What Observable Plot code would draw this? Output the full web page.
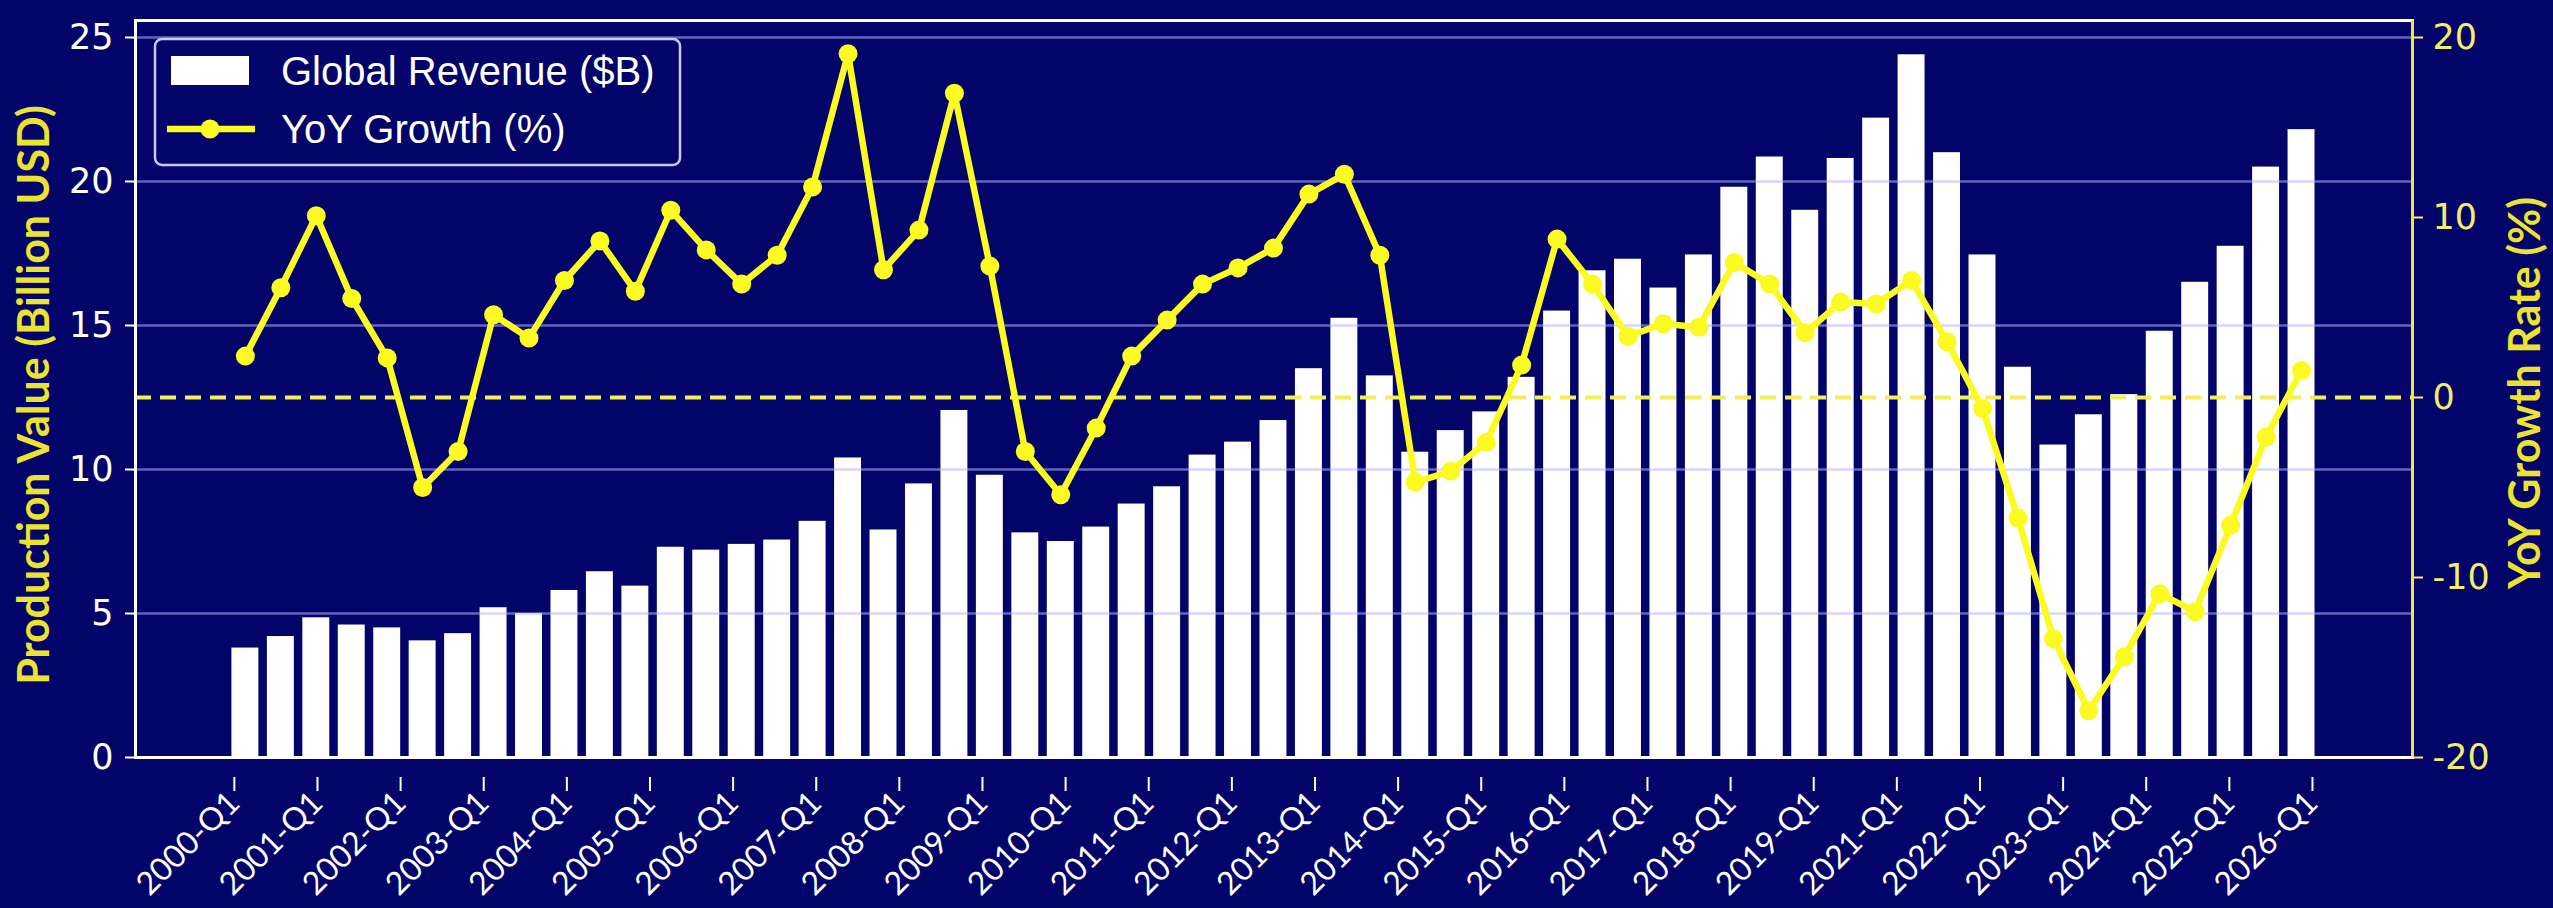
<!DOCTYPE html>
<html><head><meta charset="utf-8">
<script src="https://cdn.jsdelivr.net/npm/d3@7"></script>
<script src="https://cdn.jsdelivr.net/npm/@observablehq/plot@0.6"></script>
<style>
html,body{margin:0;padding:0;background:#03046a;}
#chart{position:relative;width:2553px;height:908px;}
</style></head><body><div id="chart"></div>
<script>
// ---- data ----
const revenue = [
  3.8, 4.2, 4.85, 4.6, 4.5, 4.05, 4.3, 5.2, 5.0, 5.8,
  6.45, 5.95, 7.3, 7.2, 7.4, 7.55, 8.2, 10.4, 7.9, 9.5,
  12.05, 9.8, 7.8, 7.5, 8.0, 8.8, 9.4, 10.5, 10.95, 11.7,
  13.5, 15.25, 13.25, 10.6, 11.35, 12.0, 13.2, 15.5, 16.9, 17.3,
  16.3, 17.45, 19.8, 20.85, 19.0, 20.8, 22.2, 24.4, 21.0, 17.45,
  13.55, 10.85, 11.9, 12.6, 14.8, 16.5, 17.75, 20.5, 21.8
];
const growth = [
  2.3, 6.1, 10.1, 5.5, 2.2, -5.0, -3.0, 4.6, 3.3, 6.5,
  8.7, 5.9, 10.4, 8.2, 6.3, 7.9, 11.7, 19.1, 7.1, 9.3,
  16.9, 7.3, -3.0, -5.4, -1.7, 2.3, 4.3, 6.3, 7.2, 8.3,
  11.3, 12.4, 7.9, -4.7, -4.1, -2.5, 1.8, 8.8, 6.3, 3.4,
  4.1, 3.9, 7.5, 6.3, 3.6, 5.3, 5.2, 6.5, 3.1, -0.6,
  -6.7, -13.4, -17.4, -14.4, -10.9, -11.9, -7.1, -2.2, 1.5
];
const tickLabels = [
  "2000-Q1","2001-Q1","2002-Q1","2003-Q1","2004-Q1","2005-Q1","2006-Q1",
  "2007-Q1","2008-Q1","2009-Q1","2010-Q1","2011-Q1","2012-Q1","2013-Q1",
  "2014-Q1","2015-Q1","2016-Q1","2017-Q1","2018-Q1","2019-Q1","2021-Q1",
  "2022-Q1","2023-Q1","2024-Q1","2025-Q1","2026-Q1"
];
const leftTicks = [0, 5, 10, 15, 20, 25];
const rightTicks = [-20, -10, 0, 10, 20];
const seriesNames = ["Global Revenue ($B)", "YoY Growth (%)"];
const axisTitles = ["Production Value (Billion USD)", "YoY Growth Rate (%)"];

// ---- layout / style ----
const W = 2553, H = 908;
const navy = "#03046a", yellow = "#fbfb22", gold = "#ece330";
const n = revenue.length;
const yMax = 25.59;
const gMin = -20, gMax = 20;
const g2y = g => (g - gMin) * 25 / (gMax - gMin);   // right axis mapped onto left scale
const rows = revenue.map((v, i) => ({i, v, g: growth[i]}));
const xDomain = [-3.1, n - 1 + 3.13];
const firstTick = -0.65, lastTick = n - 1 - 0.03;
const tickPos = tickLabels.map((_, k) => firstTick + k * (lastTick - firstTick) / (tickLabels.length - 1));
const xLabel = new Map(tickPos.map((p, k) => [p, tickLabels[k]]));
const rLabel = new Map(rightTicks.map(t => [g2y(t), String(t)]));
const half = 0.38;
const numFont = "'DejaVu Sans', sans-serif";

const plot = Plot.plot({
  width: W, height: H,
  marginLeft: 135, marginRight: 141, marginTop: 20, marginBottom: 151,
  style: {background: navy, color: "white", fontFamily: "Lato, 'Liberation Sans', sans-serif"},
  x: {type: "linear", domain: xDomain},
  y: {domain: [0, yMax]},
  marks: [
    Plot.rectY(rows, {x1: d => d.i - half, x2: d => d.i + half, y1: 0, y2: "v", fill: "white"}),
    Plot.ruleY(leftTicks.slice(1), {stroke: "#b4b4ff", strokeOpacity: 0.55, strokeWidth: 2.5}),
    Plot.ruleY([g2y(0)], {stroke: "#f1ee5c", strokeWidth: 4, strokeDasharray: "16,9"}),
    Plot.line(rows, {x: "i", y: d => g2y(d.g), stroke: yellow, strokeWidth: 6.5, strokeLinejoin: "round"}),
    Plot.dot(rows, {x: "i", y: d => g2y(d.g), r: 9.5, fill: yellow, stroke: "none"}),
    Plot.axisY(leftTicks, {anchor: "left", label: null, tickSize: 10, tickPadding: 12, fontSize: 35,
      fontFamily: numFont, color: "white", strokeWidth: 2}),
    Plot.axisY(rightTicks.map(g2y), {anchor: "right", label: null, tickSize: 10, tickPadding: 10, fontSize: 35,
      fontFamily: numFont, tickFormat: d => rLabel.get(d), color: "#f1ee6a", strokeWidth: 2}),
    Plot.axisX(tickPos, {anchor: "bottom", label: null, tickSize: 14, tickPadding: 6, tickRotate: -45, fontSize: 32,
      dx: 12, dy: 20, tickFormat: d => xLabel.get(d), color: "white", strokeWidth: 2}),
    Plot.frame({stroke: "white", strokeWidth: 3}),
    Plot.ruleX([xDomain[1]], {stroke: "#efe640", strokeWidth: 3}),
    Plot.text([axisTitles[0]], {frameAnchor: "left", textAnchor: "middle", dx: -100, dy: 6, rotate: -90,
      fontSize: 43, fontWeight: "bold", fill: gold}),
    Plot.text([axisTitles[1]], {frameAnchor: "right", textAnchor: "middle", dx: 114, dy: 4, rotate: -90,
      fontSize: 43, fontWeight: "bold", fill: gold})
  ]
});
document.getElementById("chart").appendChild(plot);

// ---- legend (inside the plot, top-left) ----
const svg = d3.select(plot);
const lg = svg.append("g").attr("font-family", "'Liberation Sans', Arial, sans-serif").attr("text-anchor", "start");
lg.append("rect").attr("x", 155).attr("y", 39).attr("width", 525).attr("height", 126)
  .attr("rx", 7).attr("fill", navy).attr("stroke", "#c9c9f5").attr("stroke-width", 2.5);
lg.append("rect").attr("x", 171).attr("y", 56).attr("width", 78).attr("height", 29).attr("fill", "white");
lg.append("line").attr("x1", 167).attr("x2", 255).attr("y1", 129).attr("y2", 129)
  .attr("stroke", yellow).attr("stroke-width", 6.5);
lg.append("circle").attr("cx", 210).attr("cy", 129).attr("r", 9.5).attr("fill", yellow);
lg.append("text").attr("x", 281).attr("y", 71).attr("dy", "0.35em").attr("font-size", 40)
  .attr("fill", "white").text(seriesNames[0]);
lg.append("text").attr("x", 281).attr("y", 129).attr("dy", "0.35em").attr("font-size", 40)
  .attr("fill", "white").text(seriesNames[1]);
</script>
</body></html>
